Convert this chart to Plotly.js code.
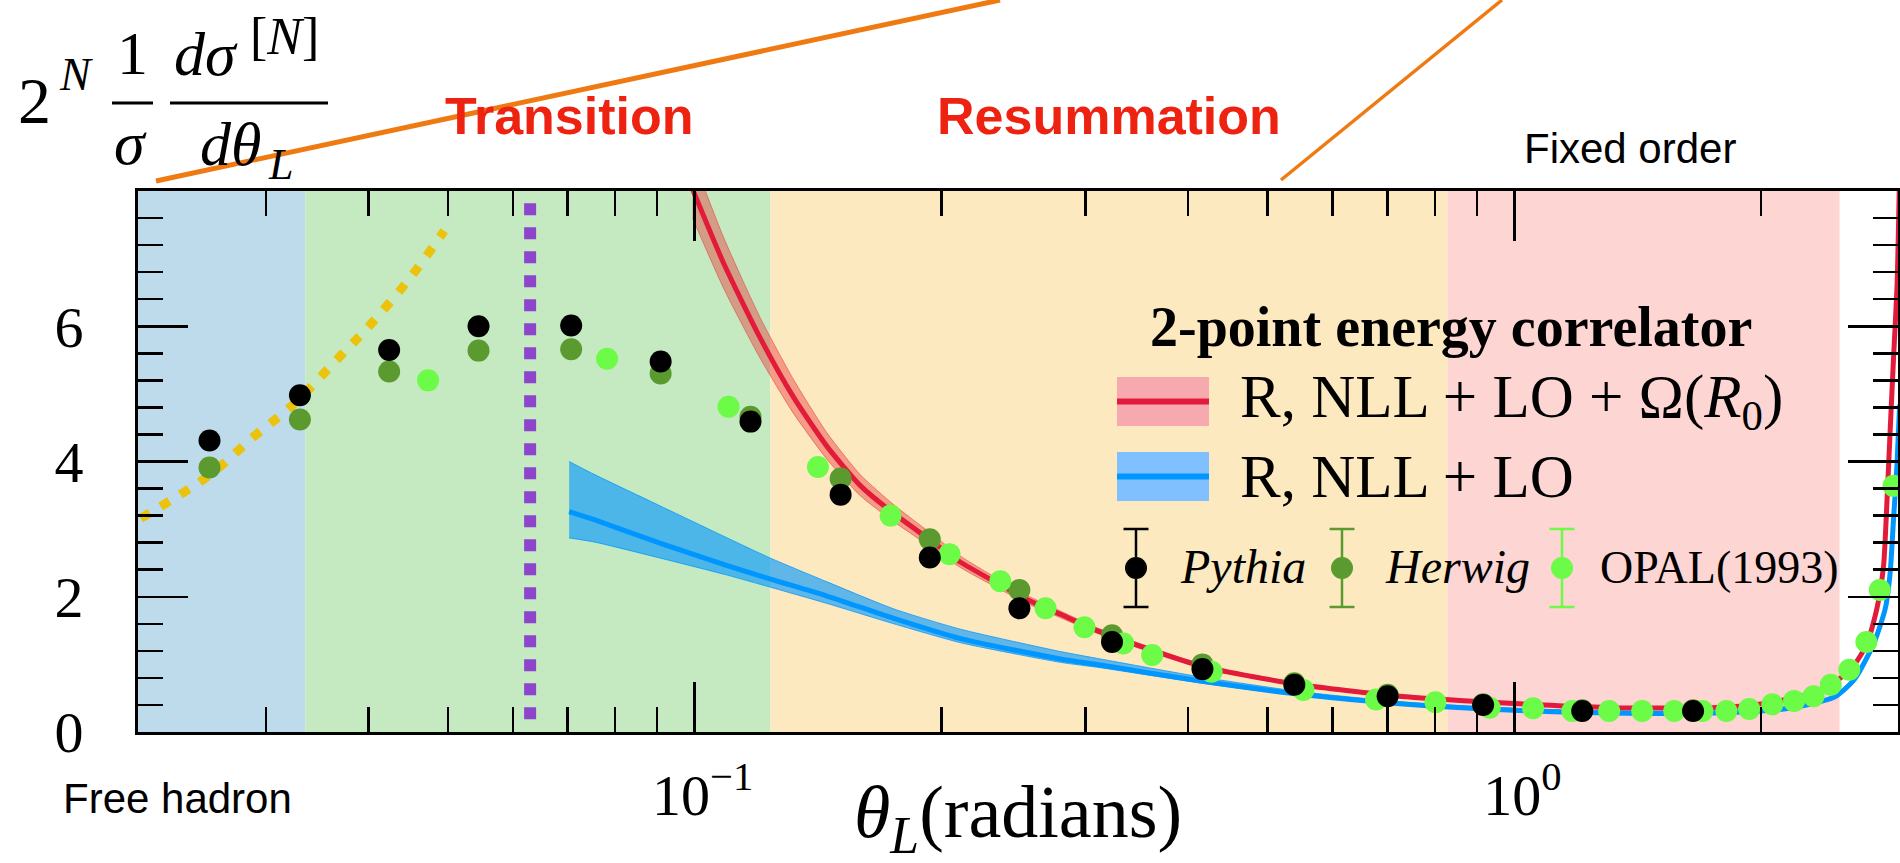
<!DOCTYPE html>
<html>
<head>
<meta charset="utf-8">
<script src="https://cdn.plot.ly/plotly-3.0.1.min.js"></script>
<style>
html,body{margin:0;padding:0;background:#ffffff;}
#chart{width:1900px;height:863px;}
</style>
</head>
<body>
<div id="chart"></div>
<script>
// ---------------- data ----------------
const pythiaTheta = [0.0256, 0.0330, 0.0424, 0.0545, 0.0707, 0.0909, 0.117, 0.1507, 0.1936, 0.249, 0.323, 0.4164, 0.539, 0.7005, 0.916, 1.21, 1.652];
const pythiaValue = [4.31, 4.98, 5.65, 6.00, 6.01, 5.48, 4.59, 3.51, 2.58, 1.83, 1.33, 0.93, 0.70, 0.53, 0.40, 0.31, 0.31];

const herwigTheta = [0.0256, 0.0330, 0.0424, 0.0545, 0.0707, 0.0909, 0.117, 0.1507, 0.1936, 0.249, 0.323, 0.4164, 0.539, 0.7005, 0.916, 1.21, 1.652];
const herwigValue = [3.91, 4.62, 5.33, 5.64, 5.66, 5.30, 4.66, 3.75, 2.85, 2.10, 1.43, 1.00, 0.72, 0.55, 0.41, 0.32, 0.32];

const opalTheta = [0.0473, 0.0782, 0.1100, 0.1414, 0.1734, 0.2046, 0.236, 0.268, 0.2989, 0.3334, 0.3616, 0.4272, 0.553, 0.678, 0.8012, 0.933, 1.054, 1.177, 1.305, 1.432, 1.567, 1.696, 1.814, 1.934, 2.064, 2.194, 2.317, 2.432, 2.562, 2.688, 2.791, 2.901];
const opalValue = [5.20, 5.52, 4.81, 3.92, 3.20, 2.63, 2.23, 1.83, 1.55, 1.31, 1.14, 0.89, 0.62, 0.48, 0.44, 0.36, 0.35, 0.31, 0.31, 0.31, 0.31, 0.31, 0.31, 0.34, 0.41, 0.46, 0.53, 0.70, 0.92, 1.33, 2.10, 3.64];

// R, NLL + LO + Omega(R0)  (central line and band)
const redTheta = [0.0994, 0.1086, 0.1203, 0.1322, 0.1451, 0.1594, 0.175, 0.1922, 0.2111, 0.2317, 0.2544, 0.2794, 0.3127, 0.4164, 0.5544, 0.7386, 1.0, 1.31, 1.744, 2.01, 2.324, 2.50, 2.60, 2.692, 2.769, 2.821, 2.848, 2.874, 2.901, 2.93, 2.95];
const redValue = [8.03, 6.92, 5.82, 4.94, 4.22, 3.64, 3.23, 2.87, 2.51, 2.23, 1.96, 1.74, 1.48, 0.97, 0.69, 0.52, 0.42, 0.36, 0.36, 0.42, 0.58, 0.80, 1.00, 1.30, 1.83, 2.46, 3.41, 4.47, 5.53, 6.60, 8.20];
const redLow   = [7.60, 6.55, 5.52, 4.70, 4.03, 3.49, 3.11, 2.77, 2.43, 2.16, 1.90, 1.69, 1.44, 0.94, 0.67, 0.50, 0.40, 0.34, 0.34, 0.40, 0.56, 0.78, 0.97, 1.26, 1.78, 2.40, 3.33, 4.37, 5.42, 6.47, 8.05];
const redHigh  = [8.50, 7.30, 6.12, 5.20, 4.42, 3.80, 3.36, 2.98, 2.60, 2.30, 2.02, 1.79, 1.52, 1.00, 0.71, 0.54, 0.44, 0.38, 0.38, 0.44, 0.60, 0.82, 1.03, 1.34, 1.88, 2.52, 3.49, 4.57, 5.64, 6.73, 8.35];

// R, NLL + LO  (central line and band)
const blueTheta = [0.0703, 0.0754, 0.0909, 0.1096, 0.1238, 0.1451, 0.175, 0.2111, 0.2794, 0.3127, 0.4164, 0.5544, 0.7386, 1.0, 1.31, 1.744, 2.163, 2.461, 2.60, 2.743, 2.835, 2.874, 2.901, 2.929, 2.951];
const blueValue = [3.26, 3.14, 2.79, 2.46, 2.26, 2.01, 1.68, 1.38, 1.08, 0.99, 0.75, 0.55, 0.41, 0.32, 0.28, 0.28, 0.35, 0.52, 0.78, 1.30, 1.83, 2.36, 3.15, 3.94, 4.84];
const blueLow   = [2.87, 2.81, 2.57, 2.32, 2.14, 1.90, 1.60, 1.32, 1.03, 0.95, 0.72, 0.53, 0.39, 0.30, 0.26, 0.26, 0.33, 0.50, 0.75, 1.26, 1.77, 2.29, 3.07, 3.85, 4.73];
const blueHigh  = [4.00, 3.81, 3.34, 2.87, 2.57, 2.22, 1.82, 1.52, 1.19, 1.08, 0.81, 0.59, 0.44, 0.35, 0.31, 0.31, 0.38, 0.55, 0.82, 1.35, 1.90, 2.44, 3.24, 4.04, 4.96];

// free hadron (dotted yellow) and hadronization angle (dotted purple)
const freeTheta = [0.0211, 0.0256, 0.0290, 0.0323, 0.0369, 0.0404, 0.0450, 0.0495];
const freeValue = [3.16, 3.80, 4.37, 4.83, 5.55, 6.05, 6.72, 7.41];
const hadronTheta = [0.063, 0.063];
const hadronValue = [7.82, 0.18];

// region boundaries (free hadron | transition | resummation | fixed order)
const regionEdges = [0.02, 0.0335, 0.1237, 0.829, 2.493];
const regionNames = ['Free hadron', 'Transition', 'Resummation', 'Fixed order'];

// axes
const xTickVals = [0.1, 1];
const xTickText = ['10<sup>\u22121</sup>', '10<sup>0</sup>'];
const xMinorVals = [0.03, 0.04, 0.05, 0.06, 0.07, 0.08, 0.09, 0.2, 0.3, 0.4, 0.5, 0.6, 0.7, 0.8, 0.9, 2];
const yTickVals = [0, 2, 4, 6];

// ---------------- drawing ----------------
const L = 138, R = 1898, T = 191, B = 732;
const px = x => (x - L) / (R - L);
const py = y => (B - y) / (B - T);

const SERIF = 'Liberation Serif, Times New Roman, serif';
const SANS = 'Liberation Sans, Arial, sans-serif';
const redLine = '#e31b3b', blueLine = '#0096ff';
const cPythia = '#000000', cHerwig = '#5b9a2f', cOpal = '#6cfb46';

const traces = [
  {x: redTheta, y: redLow, mode: 'lines', line: {color: 'rgba(225,60,60,0.55)', width: 1, shape: 'spline', smoothing: 0.6}, hoverinfo: 'skip', showlegend: false},
  {x: redTheta, y: redHigh, mode: 'lines', fill: 'tonexty', fillcolor: 'rgba(232,62,62,0.45)', line: {color: 'rgba(225,60,60,0.55)', width: 1, shape: 'spline', smoothing: 0.6}, hoverinfo: 'skip', showlegend: false},
  {x: redTheta, y: redValue, mode: 'lines', line: {color: redLine, width: 5, shape: 'spline', smoothing: 0.6}, name: 'R, NLL + LO + \u03a9(R0)', showlegend: false},
  {x: blueTheta, y: blueLow, mode: 'lines', line: {color: 'rgba(0,150,255,0.75)', width: 1, shape: 'spline', smoothing: 0.6}, hoverinfo: 'skip', showlegend: false},
  {x: blueTheta, y: blueHigh, mode: 'lines', fill: 'tonexty', fillcolor: 'rgba(0,150,255,0.62)', line: {color: 'rgba(0,150,255,0.75)', width: 1, shape: 'spline', smoothing: 0.6}, hoverinfo: 'skip', showlegend: false},
  {x: blueTheta, y: blueValue, mode: 'lines', line: {color: blueLine, width: 5, shape: 'spline', smoothing: 0.6}, name: 'R, NLL + LO', showlegend: false},
  {x: freeTheta, y: freeValue, mode: 'lines', line: {color: '#ebc20c', width: 9, dash: '10px,13px', shape: 'spline'}, name: 'Free hadron', showlegend: false},
  {x: hadronTheta, y: hadronValue, mode: 'lines', line: {color: '#8d45cc', width: 12, dash: '12px,12px'}, name: 'hadronization', showlegend: false},
  {x: herwigTheta, y: herwigValue, mode: 'markers', marker: {color: cHerwig, size: 22, line: {width: 0}}, name: 'Herwig', showlegend: false},
  {x: opalTheta, y: opalValue, mode: 'markers', marker: {color: cOpal, size: 22, line: {width: 0}}, name: 'OPAL(1993)', showlegend: false},
  {x: pythiaTheta, y: pythiaValue, mode: 'markers', marker: {color: cPythia, size: 22, line: {width: 0}}, name: 'Pythia', showlegend: false}
];

const regionColors = ['#bedbeb', '#c5e9c0', '#fde9c0', '#fdd5d2'];
const shapes = [];
for (let i = 0; i < regionColors.length; i++) {
  shapes.push({type: 'rect', xref: 'x', yref: 'paper', x0: regionEdges[i], x1: regionEdges[i + 1], y0: 0, y1: 1,
    fillcolor: regionColors[i], line: {width: 0}, layer: 'below'});
}
// orange connector lines above the frame
shapes.push({type: 'line', xref: 'paper', yref: 'paper', x0: px(156), y0: py(181), x1: px(1000), y1: py(0), line: {color: '#f07a12', width: 5}});
shapes.push({type: 'line', xref: 'paper', yref: 'paper', x0: px(1281), y0: py(180), x1: px(1502), y1: py(0), line: {color: '#f07a12', width: 3.5}});
// fraction bars of the y label
shapes.push({type: 'line', xref: 'paper', yref: 'paper', x0: px(112), y0: py(103), x1: px(153), y1: py(103), line: {color: '#000', width: 3}});
shapes.push({type: 'line', xref: 'paper', yref: 'paper', x0: px(170), y0: py(103), x1: px(328), y1: py(103), line: {color: '#000', width: 3}});
// legend patches
shapes.push({type: 'rect', xref: 'paper', yref: 'paper', x0: px(1117), x1: px(1209), y0: py(426), y1: py(377), fillcolor: '#f6aab0', line: {width: 0}});
shapes.push({type: 'line', xref: 'paper', yref: 'paper', x0: px(1117), x1: px(1209), y0: py(401.5), y1: py(401.5), line: {color: redLine, width: 6}});
shapes.push({type: 'rect', xref: 'paper', yref: 'paper', x0: px(1117), x1: px(1209), y0: py(501), y1: py(452), fillcolor: '#80c0ff', line: {width: 0}});
shapes.push({type: 'line', xref: 'paper', yref: 'paper', x0: px(1117), x1: px(1209), y0: py(476.5), y1: py(476.5), line: {color: blueLine, width: 6}});
// legend error-bar symbols
const legSym = [[1136, cPythia], [1342, cHerwig], [1562, cOpal]];
legSym.forEach(([cx, col]) => {
  shapes.push({type: 'line', xref: 'paper', yref: 'paper', x0: px(cx), x1: px(cx), y0: py(529), y1: py(607), line: {color: col, width: 2.5}});
  shapes.push({type: 'line', xref: 'paper', yref: 'paper', x0: px(cx - 12.5), x1: px(cx + 12.5), y0: py(529), y1: py(529), line: {color: col, width: 2.5}});
  shapes.push({type: 'line', xref: 'paper', yref: 'paper', x0: px(cx - 12.5), x1: px(cx + 12.5), y0: py(607), y1: py(607), line: {color: col, width: 2.5}});
  shapes.push({type: 'circle', xref: 'paper', yref: 'paper', x0: px(cx - 11), x1: px(cx + 11), y0: py(579), y1: py(557), fillcolor: col, line: {width: 0}});
});

function ann(text, x, y, size, opts) {
  return Object.assign({text: text, xref: 'paper', yref: 'paper', x: px(x), y: py(y), showarrow: false,
    xanchor: 'center', yanchor: 'middle', font: {family: SERIF, size: size, color: '#000'}}, opts || {});
}

const annotations = [
  // y-axis label 2^N (1/sigma) dsigma^[N]/dtheta_L
  ann('2', 34, 100, 66),
  ann('<i>N</i>', 76, 75, 46),
  ann('1', 132, 53, 62),
  ann('<i>\u03c3</i>', 130, 143, 62),
  ann('<i>d\u03c3</i>', 206, 54, 62),
  ann('[<i>N</i>]', 284, 37, 52),
  ann('<i>d\u03b8</i>', 230, 144, 62),
  ann('<i>L</i>', 280, 164, 44),
  // x-axis label
  ann('<i>\u03b8</i><sub><i>L</i></sub>(radians)', 1018, 866, 74, {yanchor: 'bottom'}),
  // region labels
  ann('<b>' + regionNames[1] + '</b>', 569, 116, 52, {font: {family: SANS, size: 52, color: '#ee2211'}}),
  ann('<b>' + regionNames[2] + '</b>', 1109, 116, 52, {font: {family: SANS, size: 52, color: '#ee2211'}}),
  ann(regionNames[3], 1630, 148, 42, {font: {family: SANS, size: 42, color: '#000'}}),
  ann(regionNames[0], 177, 798, 42, {font: {family: SANS, size: 42, color: '#000'}}),
  // legend
  ann('<b>2-point energy correlator</b>', 1451, 327, 56),
  ann('R, NLL + LO + \u03a9(<i>R</i><sub>0</sub>)', 1238, 401, 61, {xanchor: 'left'}),
  ann('R, NLL + LO', 1238, 476, 61, {xanchor: 'left'}),
  ann('<i>Pythia</i>', 1178, 566, 48, {xanchor: 'left'}),
  ann('<i>Herwig</i>', 1383, 566, 48, {xanchor: 'left'}),
  ann('OPAL(1993)', 1598, 567, 46, {xanchor: 'left'})
];

const axisCommon = {
  showline: true, linecolor: '#000', linewidth: 3, mirror: 'allticks',
  ticks: 'inside', ticklen: 50, tickwidth: 2.5, tickcolor: '#000',
  showgrid: false, zeroline: false,
  tickfont: {family: SERIF, size: 58, color: '#000'}
};

const layout = {
  width: 1900, height: 863,
  margin: {l: L, r: 1900 - R, t: T, b: 863 - B, pad: 0},
  paper_bgcolor: '#ffffff', plot_bgcolor: '#ffffff',
  showlegend: false,
  xaxis: Object.assign({}, axisCommon, {
    type: 'log', range: [-1.679, 0.468],
    tickmode: 'array', tickvals: xTickVals, ticktext: xTickText,
    ticklabelstandoff: 10, ticklabelshift: 8,
    minor: {tickmode: 'array', tickvals: xMinorVals, ticks: 'inside', ticklen: 25, tickwidth: 2.5, tickcolor: '#000', showgrid: false}
  }),
  yaxis: Object.assign({}, axisCommon, {
    range: [0, 8], tickmode: 'array', tickvals: yTickVals,
    ticklabelstandoff: 40,
    minor: {dtick: 0.4, ticks: 'inside', ticklen: 25, tickwidth: 2.5, tickcolor: '#000', showgrid: false}
  }),
  shapes: shapes,
  annotations: annotations
};

Plotly.newPlot('chart', traces, layout, {displayModeBar: false, staticPlot: true});
</script>
</body>
</html>
